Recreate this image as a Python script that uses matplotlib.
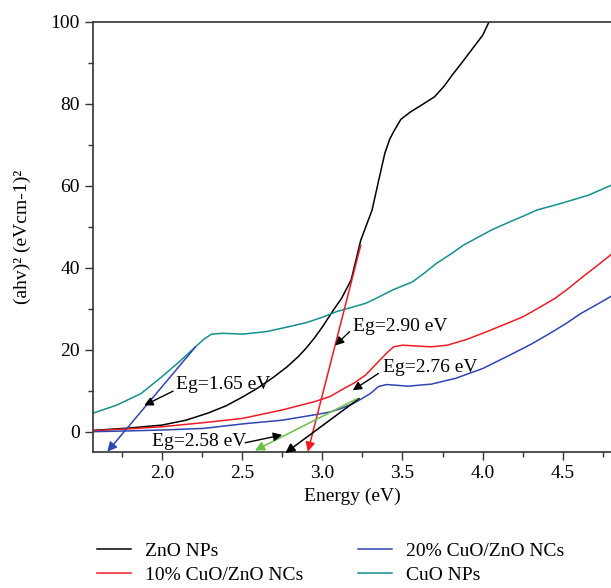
import matplotlib.pyplot as plt
from matplotlib.ticker import MultipleLocator

plt.rcParams['font.family'] = ['Liberation Serif', 'DejaVu Serif']
plt.rcParams['font.size'] = 14

# photon energy (eV) and (ahv)^2 values
zno_e = [1.57, 1.8, 2.0, 2.15, 2.285, 2.4, 2.505, 2.6, 2.70, 2.78, 2.85, 2.90, 2.95,
         3.0, 3.07, 3.12, 3.18, 3.24, 3.31, 3.35, 3.39, 3.42, 3.445, 3.49, 3.55,
         3.62, 3.70, 3.76, 3.81, 3.87, 3.93, 4.0, 4.04]
zno_y = [0.3, 0.9, 1.6, 2.8, 4.5, 6.3, 8.5, 10.7, 13.4, 15.8, 18.3, 20.4, 22.8,
         25.5, 29.7, 32.5, 37.0, 46.7, 54.0, 61.0, 67.9, 71.3, 73.2, 76.2, 78.0,
         79.7, 81.7, 84.3, 87.0, 90.0, 93.1, 96.7, 100.0]

cu10_e = [1.57, 1.8, 2.0, 2.26, 2.505, 2.75, 2.95, 3.05, 3.12, 3.2, 3.27, 3.36,
          3.41, 3.445, 3.50, 3.585, 3.68, 3.78, 3.9, 4.0, 4.12, 4.25, 4.35, 4.45,
          4.53, 4.615, 4.72, 4.83]
cu10_y = [0.25, 0.7, 1.2, 2.2, 3.25, 5.3, 7.3, 8.6, 10.2, 11.9, 13.8, 17.5,
          19.5, 20.7, 21.1, 20.9, 20.7, 21.1, 22.5, 24.0, 25.9, 28.0, 30.2, 32.5,
          34.8, 37.5, 40.7, 44.1]

cu20_e = [1.57, 1.8, 2.0, 2.26, 2.505, 2.75, 2.95, 3.05, 3.12, 3.19, 3.24, 3.30,
          3.35, 3.40, 3.47, 3.535, 3.68, 3.83, 4.0, 4.17, 4.3, 4.42, 4.52, 4.615,
          4.72, 4.83]
cu20_y = [0.0, 0.2, 0.4, 0.8, 1.9, 2.8, 4.1, 4.8, 5.7, 6.8, 7.9, 9.3,
          11.0, 11.5, 11.3, 11.1, 11.6, 13.0, 15.4, 18.7, 21.3, 24.0, 26.4, 28.9,
          31.2, 33.7]

cuo_e = [1.57, 1.72, 1.87, 2.0, 2.11, 2.21, 2.26, 2.31, 2.38, 2.505, 2.65, 2.78,
         2.90, 3.0, 3.09, 3.18, 3.27, 3.35, 3.44, 3.56, 3.64, 3.71, 3.80, 3.88,
         3.97, 4.06, 4.17, 4.26, 4.34, 4.49, 4.66, 4.83]
cuo_y = [4.5, 6.5, 9.3, 13.4, 17.1, 20.7, 22.5, 23.8, 24.0, 23.8, 24.4, 25.5,
         26.6, 27.9, 29.3, 30.3, 31.3, 32.8, 34.6, 36.5, 38.8, 41.0, 43.3, 45.5,
         47.4, 49.3, 51.2, 52.7, 54.1, 55.7, 57.7, 60.6]

# tangent (Tauc extrapolation) lines: start point -> arrow end
tan_blue = [(2.21, 20.7), (1.66, -4.9)]
tan_red = [(3.24, 45.5), (2.91, -4.9)]
tan_black = [(3.23, 8.1), (2.77, -5.2)]
tan_green = [(3.22, 8.1), (2.58, -4.6)]

# band gap labels: text, text position, arrow start, arrow tip
eg_labels = ['Eg=1.65 eV', 'Eg=2.90 eV', 'Eg=2.76 eV', 'Eg=2.58 eV']
eg_text_pos = [(2.09, 11.4), (3.19, 25.6), (3.38, 15.7), (1.94, -2.3)]
eg_arrow_from = [(2.07, 9.9), (3.17, 24.4), (3.35, 14.2), (2.52, -2.7)]
eg_arrow_to = [(1.89, 6.4), (3.08, 21.0), (3.19, 10.1), (2.75, -0.8)]

fig = plt.figure(figsize=(6.11, 5.88), dpi=100)
ax = fig.add_axes([0.152, 0.231, 0.848, 0.732])

ax.plot(zno_e, zno_y, color='black', lw=1.1, label='ZnO NPs')
ax.plot(cu10_e, cu10_y, color='#ee1c24', lw=1.1, label='10% CuO/ZnO NCs')
ax.plot(cu20_e, cu20_y, color='#2f45b0', lw=1.1, label='20% CuO/ZnO NCs')
ax.plot(cuo_e, cuo_y, color='#14908c', lw=1.1, label='CuO NPs')

for seg, c in [(tan_blue, '#2f45b0'), (tan_red, '#ee1c24'),
               (tan_black, 'black'), (tan_green, '#6cc04a')]:
    ax.annotate('', xy=seg[1], xytext=seg[0], annotation_clip=False,
                arrowprops=dict(arrowstyle='-|>', color=c, lw=1.1,
                                mutation_scale=14, shrinkA=0, shrinkB=0))

for txt, tp, a0, a1 in zip(eg_labels, eg_text_pos, eg_arrow_from, eg_arrow_to):
    ax.text(tp[0], tp[1], txt, ha='left', va='center', fontsize=14)
    ax.annotate('', xy=a1, xytext=a0,
                arrowprops=dict(arrowstyle='-|>', color='black', lw=1.0,
                                mutation_scale=13, shrinkA=0, shrinkB=0))

ax.set_xlim(1.57, 4.8)
ax.set_ylim(-5, 100)
ax.xaxis.set_major_locator(MultipleLocator(0.5))
ax.xaxis.set_minor_locator(MultipleLocator(0.25))
ax.yaxis.set_major_locator(MultipleLocator(20))
ax.yaxis.set_minor_locator(MultipleLocator(10))
ax.tick_params(which='major', length=6, width=1, color='#333333', labelsize=14)
ax.tick_params(which='minor', length=3.5, width=1, color='#333333')
ax.spines['right'].set_visible(False)
for s in ['left', 'top', 'bottom']:
    ax.spines[s].set_color('#333333')
    ax.spines[s].set_linewidth(1.2)

ax.set_xlabel('Energy (eV)', fontsize=14)
ax.set_ylabel('(ahv)² (eVcm-1)²', fontsize=14, labelpad=14)

fig.legend(loc='upper left', bbox_to_anchor=(0.13, 0.107), ncol=2, frameon=False,
           fontsize=14, handlelength=1.75, handletextpad=0.7, columnspacing=2.85,
           labelspacing=0.3)

fig.savefig('out.png', dpi=100)
